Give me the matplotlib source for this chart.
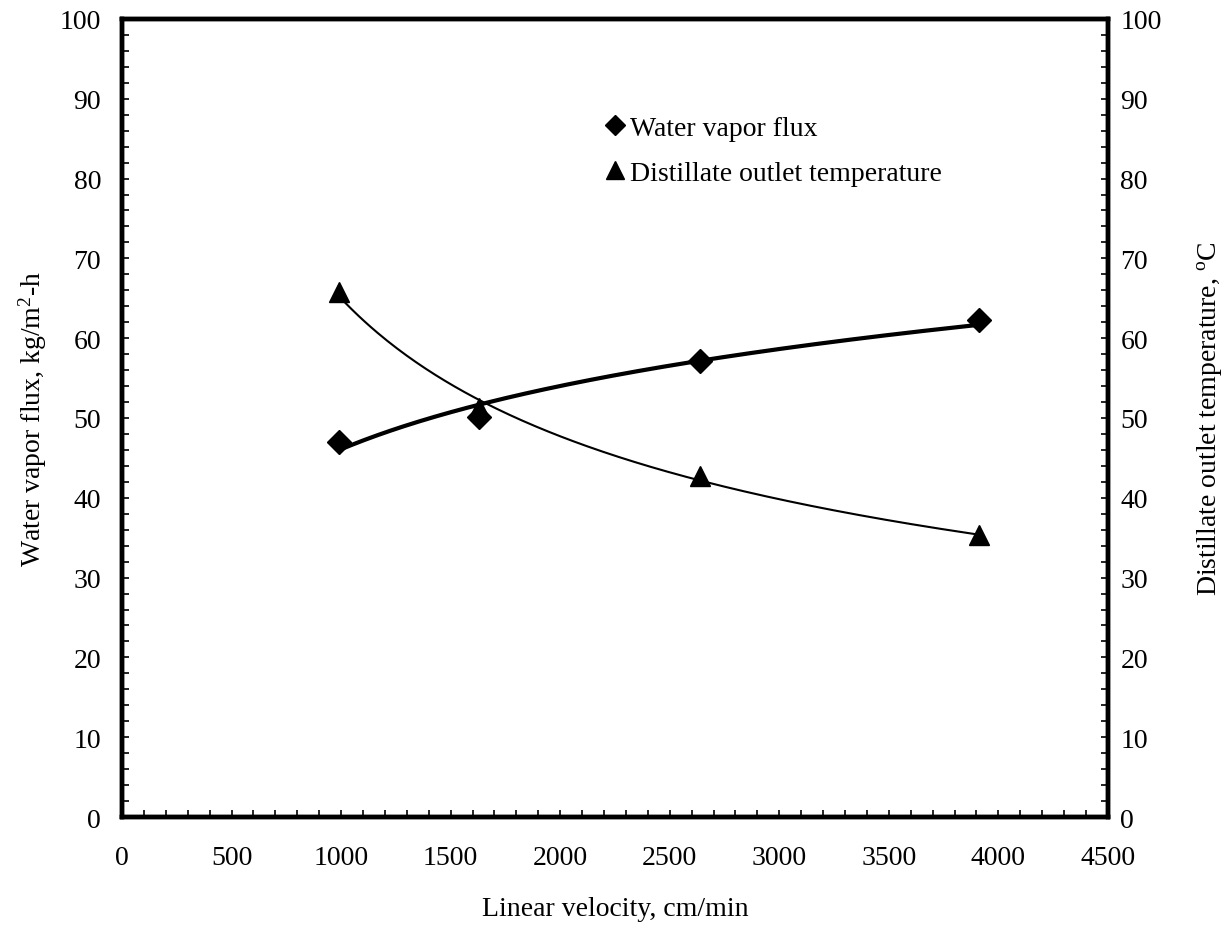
import numpy as np
import matplotlib
matplotlib.use("Agg")
import matplotlib.pyplot as plt
from matplotlib.ticker import MultipleLocator
from matplotlib.lines import Line2D

plt.rcParams['font.family'] = ['Liberation Serif', 'DejaVu Serif']
plt.rcParams['mathtext.fontset'] = 'custom'
plt.rcParams['mathtext.rm'] = 'Liberation Serif'
plt.rcParams['mathtext.it'] = 'Liberation Serif:italic'

velocity = [990, 1630, 2640, 3910]
flux = [47.0, 50.1, 57.1, 62.3]
temperature = [65.8, 51.3, 42.7, 35.3]

FS = 20

fig = plt.figure(figsize=(12.29, 9.28), dpi=100)
ax = fig.add_axes([0.0993, 0.1185, 0.8022, 0.86])
ax2 = ax.twinx()

# trend lines (logarithmic for flux, power for temperature)
xs = np.linspace(min(velocity), max(velocity), 200)
a, b = np.polyfit(np.log(velocity), flux, 1)
ax.plot(xs, a * np.log(xs) + b, color='black', lw=3.0, zorder=2)
p, q = np.polyfit(np.log(velocity), np.log(temperature), 1)
ax2.plot(xs, np.exp(q) * xs ** p, color='black', lw=1.5, zorder=2)

ax.plot(velocity, flux, linestyle='none', marker='D', ms=12, color='black', zorder=3)
ax2.plot(velocity, temperature, linestyle='none', marker='^', ms=14, color='black', zorder=3)

for a_ in (ax, ax2):
    a_.set_ylim(0, 100)
    a_.yaxis.set_major_locator(MultipleLocator(10))
    a_.yaxis.set_minor_locator(MultipleLocator(2))
    for s in a_.spines.values():
        s.set_linewidth(3.2)
ax.set_xlim(0, 4500)
ax.xaxis.set_major_locator(MultipleLocator(500))
ax.xaxis.set_minor_locator(MultipleLocator(100))

ax.tick_params(axis='both', which='both', direction='in', length=5, width=1.2,
               labelsize=FS)
ax.tick_params(axis='y', which='both', pad=15)
ax.tick_params(axis='x', which='both', top=False, pad=20)
ax2.tick_params(axis='y', which='both', direction='in', length=5, width=1.2,
                labelsize=FS, pad=9)

ax.set_xlabel('Linear velocity, cm/min', fontsize=FS, labelpad=19)
ax.set_ylabel('Water vapor flux, kg/m$^{2}$-h', fontsize=FS, labelpad=8)
ax2.set_ylabel('Distillate outlet temperature, $^{\\rm o}$C', fontsize=FS, labelpad=24)

# legend
handles = [Line2D([], [], linestyle='none', marker='D', ms=10, color='black'),
           Line2D([], [], linestyle='none', marker='^', ms=13, color='black')]
ax.legend(handles, ['Water vapor flux', 'Distillate outlet temperature'],
          loc='upper left', bbox_to_anchor=(0.479, 0.893), frameon=False,
          fontsize=FS, handlelength=0.7, handletextpad=0.2, labelspacing=0.7,
          borderaxespad=0)

fig.savefig('out.png', dpi=100)
